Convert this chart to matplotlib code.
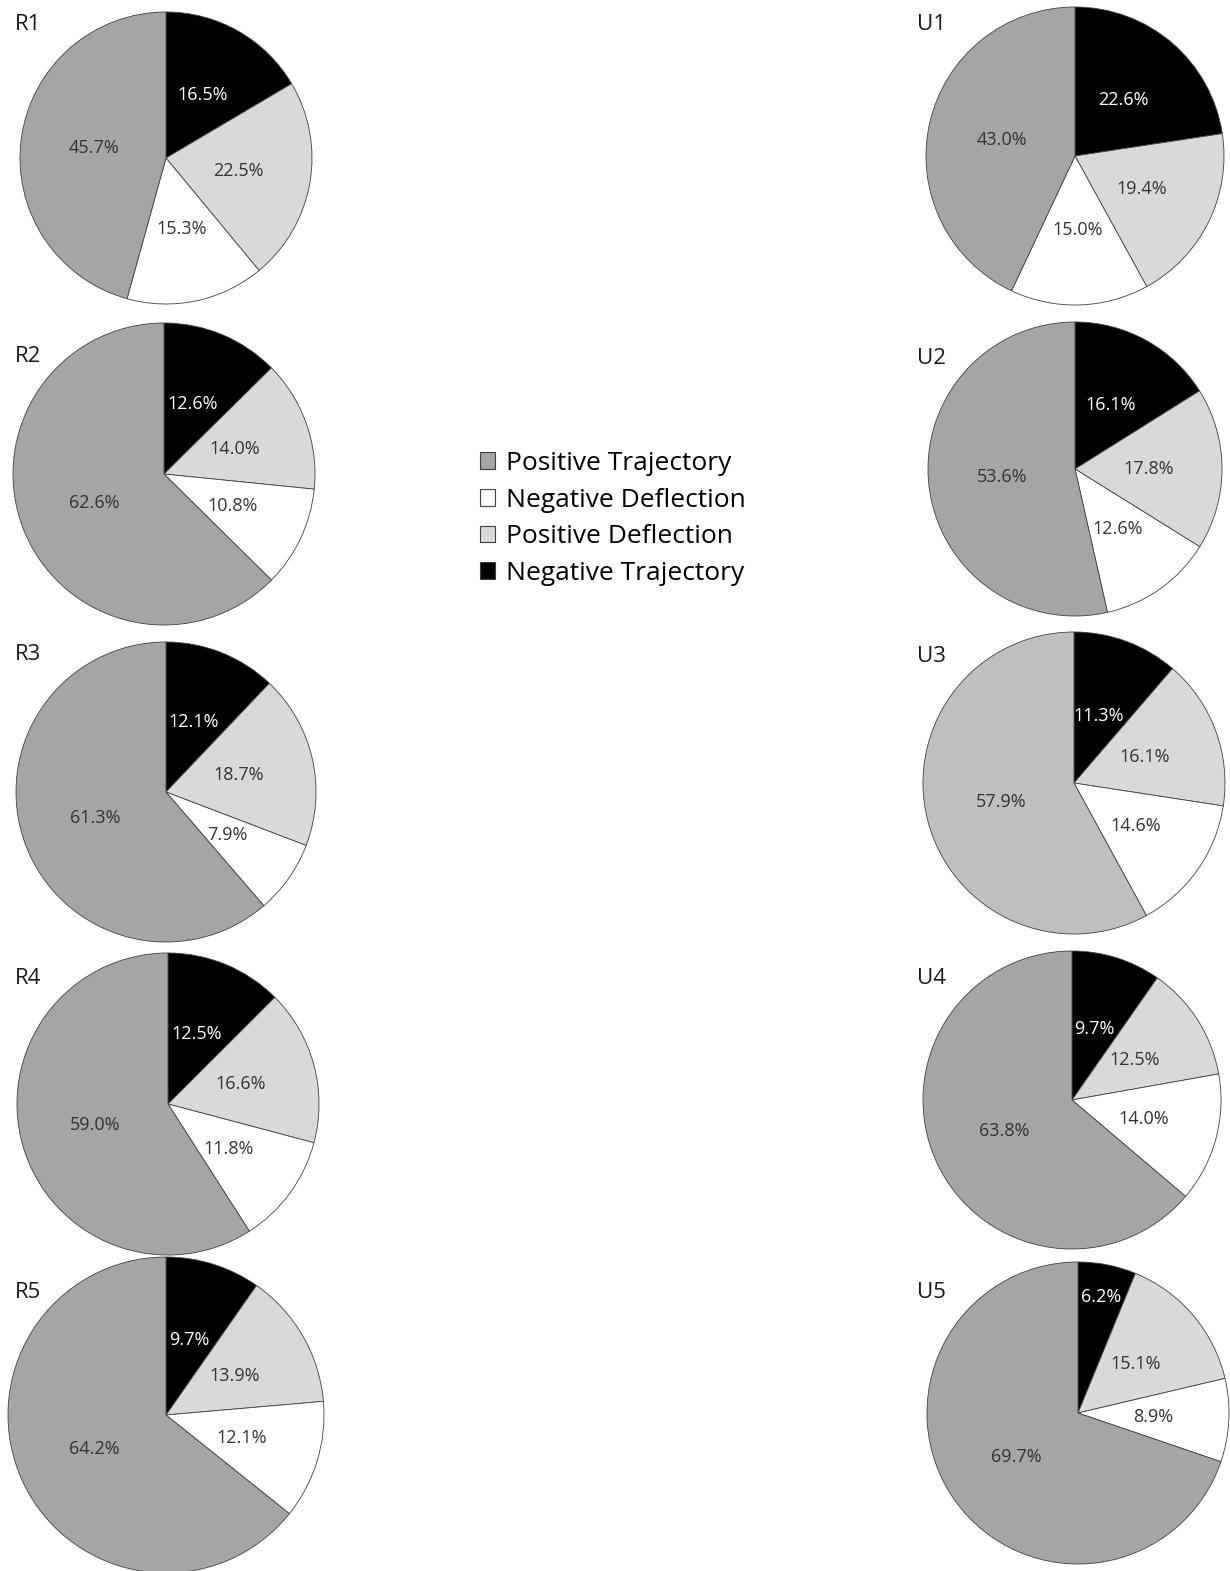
import matplotlib
matplotlib.use("Agg")
import numpy as np
import matplotlib.pyplot as plt
from matplotlib.patches import Patch

plt.rcParams['font.family'] = ['Open Sans', 'DejaVu Sans']

# categories, in clockwise order starting at 12 o'clock
categories = ['Negative Trajectory', 'Positive Deflection', 'Negative Deflection', 'Positive Trajectory']
legend_order = ['Positive Trajectory', 'Negative Deflection', 'Positive Deflection', 'Negative Trajectory']

panel_names = ['R1', 'R2', 'R3', 'R4', 'R5', 'U1', 'U2', 'U3', 'U4', 'U5']

# shares (%) per panel: neg. trajectory, pos. deflection, neg. deflection, pos. trajectory
R1 = [16.5, 22.5, 15.3, 45.7]
R2 = [12.6, 14.0, 10.8, 62.6]
R3 = [12.1, 18.7, 7.9, 61.3]
R4 = [12.5, 16.6, 11.8, 59.0]
R5 = [9.7, 13.9, 12.1, 64.2]
U1 = [22.6, 19.4, 15.0, 43.0]
U2 = [16.1, 17.8, 12.6, 53.6]
U3 = [11.3, 16.1, 14.6, 57.9]
U4 = [9.7, 12.5, 14.0, 63.8]
U5 = [6.2, 15.1, 8.9, 69.7]
panel_values = [R1, R2, R3, R4, R5, U1, U2, U3, U4, U5]

# ---------------- styling / layout (pixels on a 1230x1571 canvas) ----------------
W, H = 1230, 1571
colors = {'Negative Trajectory': '#000000', 'Positive Deflection': '#d9d9d9',
          'Negative Deflection': '#ffffff', 'Positive Trajectory': '#a5a5a5'}
text_colors = {'Negative Trajectory': 'white', 'Positive Deflection': '#333333',
               'Negative Deflection': '#333333', 'Positive Trajectory': '#333333'}
override = {'U3': {'Positive Trajectory': '#bfbfbf'}}
# label distance tweaks (fraction of radius) where the labels sit off the default
label_dist = {'U5': [0.78, 0.5, 0.5, 0.5], 'U3': [0.47, 0.5, 0.5, 0.5]}

# pie centre x, centre y, radius
geom = {'R1': (166, 158, 146), 'R2': (164, 474, 151), 'R3': (166, 792, 150),
        'R4': (168, 1104, 151), 'R5': (166, 1415, 158),
        'U1': (1075, 156, 149), 'U2': (1075, 469, 147), 'U3': (1074, 783, 151),
        'U4': (1072, 1100, 149), 'U5': (1078, 1413, 151)}
# panel name position
name_pos = {'R1': (15, 25), 'R2': (15, 357), 'R3': (15, 654), 'R4': (15, 979), 'R5': (15, 1292),
            'U1': (917, 25), 'U2': (917, 359), 'U3': (917, 656), 'U4': (917, 979), 'U5': (917, 1292)}

fig = plt.figure(figsize=(W / 100, H / 100), dpi=100)

for name, vals in zip(panel_names, panel_values):
    cx, cy, r = geom[name]
    pad = 1.02
    ax = fig.add_axes([(cx - r * pad) / W, 1 - (cy + r * pad) / H, 2 * r * pad / W, 2 * r * pad / H])
    cols = [override.get(name, {}).get(c, colors[c]) for c in categories]
    labels = [f'{v:.1f}%' for v in vals]
    wedges, texts = ax.pie(vals, colors=cols, labels=labels, labeldistance=0.5,
                           startangle=90, counterclock=False,
                           wedgeprops=dict(edgecolor='#404040', linewidth=0.6))
    dists = label_dist.get(name, [0.5] * 4)
    for t, w, c, d in zip(texts, wedges, categories, dists):
        ang = np.deg2rad((w.theta1 + w.theta2) / 2)
        t.set_position((d * np.cos(ang), d * np.sin(ang)))
        t.set_color(text_colors[c])
        t.set_fontsize(13)
        t.set_ha('center')
        t.set_va('center')
    ax.set_xlim(-pad, pad)
    ax.set_ylim(-pad, pad)
    ax.set_aspect('equal')
    ax.axis('off')

    nx, ny = name_pos[name]
    fig.text(nx / W, 1 - ny / H, name, fontsize=16, color='#1a1a1a', ha='left', va='center')

handles = [Patch(facecolor=colors[c], edgecolor='#404040', linewidth=0.8) for c in legend_order]
fig.legend(handles, legend_order, loc='upper left', bbox_to_anchor=(480 / W, 1 - 451 / H),
           frameon=False, fontsize=19, handlelength=0.58, handleheight=0.58,
           handletextpad=0.4, labelspacing=0.44, borderpad=0, borderaxespad=0)

fig.savefig('out.png', dpi=100)
